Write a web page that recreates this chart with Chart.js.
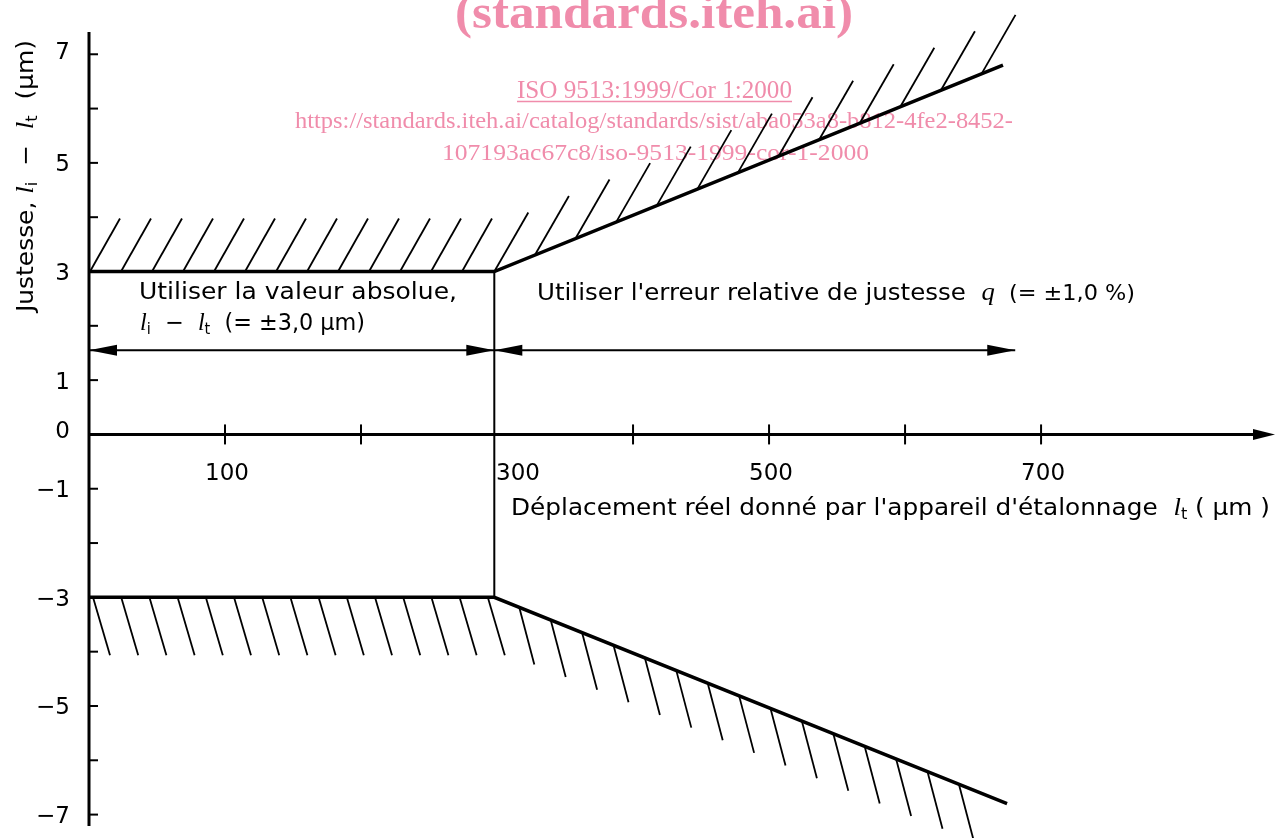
<!DOCTYPE html>
<html lang="fr">
<head>
    <meta charset="UTF-8">
    <title>Justesse - ISO 9513</title>
    <script src="https://cdn.jsdelivr.net/npm/chart.js"></script>
    <style>
        html, body { margin: 0; padding: 0; background: #fff; }
        canvas { display: block; }
    </style>
</head>
<body>
    <canvas id="justesse" width="1275" height="838"></canvas>

    <script>
        // tolerance limits, displacement l_t (µm) -> error l_i - l_t (µm)
        const upperX = [0, 298, 672];
        const upperY = [3, 3, 6.8];
        const lowerX = [0, 298, 675];
        const lowerY = [-3, -3, -6.8];
        const splitX = [298, 298];
        const splitY = [3, -3];
        const leftArrowX = [0, 298];
        const rightArrowX = [298, 681];
        const arrowY = 1.55;

        const xTicks = [100, 200, 300, 400, 500, 600, 700];
        const xTickLabels = ['100', '', '300', '', '500', '', '700'];
        const yTicks = [7, 6, 5, 4, 3, 2, 1, 0, -1, -2, -3, -4, -5, -6, -7];
        const yTickLabels = ['7', '', '5', '', '3', '', '1', '0', '\u22121', '', '\u22123', '', '\u22125', '', '\u22127'];

        const pts = (xs, ys) => xs.map((x, i) => ({ x: x, y: Array.isArray(ys) ? ys[i] : ys }));

        const ink = '#000';
        const pink = '#f08cab';
        const sans = '23px "DejaVu Sans"';
        const sansSmall = '21px "DejaVu Sans"';
        const serifI = 'italic 25px "Liberation Serif"';
        const sub = '15px "DejaVu Sans"';

        // draw a list of text runs starting at (x, y), stretched to a given width
        function fitText(ctx, runs, x, y, width, angle) {
            ctx.save();
            ctx.translate(x, y);
            if (angle) ctx.rotate(angle);
            let natural = 0;
            runs.forEach(r => { ctx.font = r.font; natural += ctx.measureText(r.t).width; });
            ctx.scale(width ? width / natural : 1, 1);
            ctx.textAlign = 'left';
            ctx.textBaseline = 'alphabetic';
            let cx = 0;
            runs.forEach(r => {
                ctx.font = r.font;
                ctx.fillStyle = r.color || ink;
                ctx.fillText(r.t, cx, r.dy || 0);
                cx += ctx.measureText(r.t).width;
            });
            ctx.restore();
        }

        function arrowHead(ctx, tx, ty, dx, dy, len, half) {
            const n = Math.hypot(dx, dy);
            const ux = dx / n, uy = dy / n;
            ctx.beginPath();
            ctx.moveTo(tx, ty);
            ctx.lineTo(tx - ux * len - uy * half, ty - uy * len + ux * half);
            ctx.lineTo(tx - ux * len + uy * half, ty - uy * len - ux * half);
            ctx.closePath();
            ctx.fill();
        }

        const pinkText = {
            id: 'pinkText',
            beforeDatasetsDraw(chart) {
                const ctx = chart.ctx;
                fitText(ctx, [{ t: '(standards.iteh.ai)', font: 'bold 48px "Liberation Serif"', color: pink }], 455, 28, 398);
                fitText(ctx, [{ t: 'ISO 9513:1999/Cor 1:2000', font: '25px "Liberation Serif"', color: pink }], 517, 98, 275);
                ctx.save();
                ctx.strokeStyle = pink;
                ctx.lineWidth = 1.5;
                ctx.beginPath();
                ctx.moveTo(517, 101.5);
                ctx.lineTo(792, 101.5);
                ctx.stroke();
                ctx.restore();
                fitText(ctx, [{ t: 'https://standards.iteh.ai/catalog/standards/sist/aba053a8-b812-4fe2-8452-', font: '24px "Liberation Serif"', color: pink }], 295, 128, 718);
                fitText(ctx, [{ t: '107193ac67c8/iso-9513-1999-cor-1-2000', font: '24px "Liberation Serif"', color: pink }], 442, 160, 427);
            }
        };

        const drawing = {
            id: 'drawing',
            afterDatasetsDraw(chart) {
                const ctx = chart.ctx;
                const xs = chart.scales.x, ys = chart.scales.y;
                const area = chart.chartArea;
                ctx.save();
                ctx.strokeStyle = ink;
                ctx.fillStyle = ink;
                ctx.lineCap = 'butt';

                // hatching along the limit lines
                chart.data.datasets.forEach((ds, i) => {
                    if (!ds.hatch) return;
                    const p = chart.getDatasetMeta(i).data;
                    ctx.lineWidth = 1.8;
                    ds.hatch.forEach((h, s) => {
                        const a = p[s], b = p[s + 1];
                        for (let hx = a.x + h.start; hx <= b.x - h.end; hx += h.step) {
                            const hy = a.y + (b.y - a.y) * (hx - a.x) / (b.x - a.x);
                            ctx.beginPath();
                            ctx.moveTo(hx, hy);
                            ctx.lineTo(hx + h.dx, hy + h.dy);
                            ctx.stroke();
                        }
                    });
                });

                // arrow heads of the range arrows
                chart.data.datasets.forEach((ds, i) => {
                    if (!ds.arrows) return;
                    const p = chart.getDatasetMeta(i).data;
                    const a = p[0], b = p[p.length - 1];
                    arrowHead(ctx, a.x, a.y, a.x - b.x, a.y - b.y, 28, 5.5);
                    arrowHead(ctx, b.x, b.y, b.x - a.x, b.y - a.y, 28, 5.5);
                });

                // axes
                const y0 = ys.getPixelForValue(0);
                ctx.lineWidth = 3;
                ctx.beginPath();
                ctx.moveTo(area.left, area.top);
                ctx.lineTo(area.left, area.bottom);
                ctx.moveTo(area.left, y0);
                ctx.lineTo(area.right - 15, y0);
                ctx.stroke();
                arrowHead(ctx, area.right, y0, 1, 0, 22, 5.5);

                // y ticks and labels
                ctx.lineWidth = 2;
                ctx.font = sans;
                ctx.textAlign = 'right';
                ctx.textBaseline = 'alphabetic';
                yTicks.forEach((v, k) => {
                    const py = ys.getPixelForValue(v);
                    if (v !== 0) {
                        ctx.beginPath();
                        ctx.moveTo(area.left, py);
                        ctx.lineTo(area.left + 9, py);
                        ctx.stroke();
                    }
                    const off = v === 0 ? -5 : (v === 7 ? -4 : 0);
                    if (yTickLabels[k]) ctx.fillText(yTickLabels[k], 70, py + 8.4 + off);
                });

                // x ticks and labels
                xTicks.forEach((v, k) => {
                    const px = xs.getPixelForValue(v);
                    if (v !== 300) {
                        ctx.beginPath();
                        ctx.moveTo(px, y0 - 10);
                        ctx.lineTo(px, y0 + 10);
                        ctx.stroke();
                    }
                    if (!xTickLabels[k]) return;
                    ctx.textAlign = v === 300 ? 'left' : 'center';
                    ctx.fillText(xTickLabels[k], v === 300 ? px - 1 : px + 2, 480);
                });
                ctx.restore();

                // annotations and axis titles
                fitText(ctx, [{ t: 'Utiliser la valeur absolue,', font: sans }], 139, 299, 318);
                fitText(ctx, [
                    { t: 'l', font: serifI }, { t: 'i', font: sub, dy: 4 },
                    { t: '  \u2212  ', font: sans },
                    { t: 'l', font: serifI }, { t: 't', font: sub, dy: 4 },
                    { t: '  (= \u00b13,0 \u00b5m)', font: sans }
                ], 140, 330, 225);
                fitText(ctx, [
                    { t: "Utiliser l'erreur relative de justesse  ", font: sans },
                    { t: 'q', font: serifI },
                    { t: '  (= \u00b11,0 %)', font: sansSmall }
                ], 537, 300, 598);
                fitText(ctx, [
                    { t: "D\u00e9placement r\u00e9el donn\u00e9 par l'appareil d'\u00e9talonnage  ", font: sans },
                    { t: 'l', font: serifI }, { t: 't', font: sub, dy: 4 },
                    { t: ' ( \u00b5m )', font: sans }
                ], 511, 515, 759);
                fitText(ctx, [
                    { t: 'Justesse, ', font: sans },
                    { t: 'l', font: serifI }, { t: 'i', font: sub, dy: 4 },
                    { t: '  \u2212  ', font: sans },
                    { t: 'l', font: serifI }, { t: 't', font: sub, dy: 4 },
                    { t: '  (\u00b5m)', font: sans }
                ], 33, 312, 272, -Math.PI / 2);
            }
        };

        const lineStyle = { borderColor: ink, pointRadius: 0, tension: 0, fill: false, borderCapStyle: 'butt', borderJoinStyle: 'miter' };

        new Chart(document.getElementById('justesse'), {
            type: 'line',
            data: {
                datasets: [
                    Object.assign({
                        label: 'Limite sup\u00e9rieure', data: pts(upperX, upperY), borderWidth: 3.5,
                        hatch: [{ start: 1, step: 31, end: 20, dx: 30, dy: -53 }, { start: 0, step: 40.6, end: 15, dx: 34, dy: -59 }]
                    }, lineStyle),
                    Object.assign({
                        label: 'Limite inf\u00e9rieure', data: pts(lowerX, lowerY), borderWidth: 3.5,
                        hatch: [{ start: 4, step: 28.2, end: 4, dx: 17, dy: 58 }, { start: 25, step: 31.4, end: 40, dx: 15, dy: 57 }]
                    }, lineStyle),
                    Object.assign({ label: 'S\u00e9paration', data: pts(splitX, splitY), borderWidth: 2 }, lineStyle),
                    Object.assign({ label: 'Valeur absolue', data: pts(leftArrowX, arrowY), borderWidth: 2, arrows: true }, lineStyle),
                    Object.assign({ label: 'Erreur relative', data: pts(rightArrowX, arrowY), borderWidth: 2, arrows: true }, lineStyle)
                ]
            },
            options: {
                responsive: false,
                animation: false,
                devicePixelRatio: 1,
                parsing: true,
                layout: { padding: { left: 89, top: 32, right: 0, bottom: 12 } },
                plugins: {
                    legend: { display: false },
                    tooltip: { enabled: false }
                },
                scales: {
                    x: { type: 'linear', min: 0, max: 872, display: false },
                    y: { type: 'linear', min: -7.21, max: 7.41, display: false }
                }
            },
            plugins: [pinkText, drawing]
        });
    </script>
</body>
</html>
